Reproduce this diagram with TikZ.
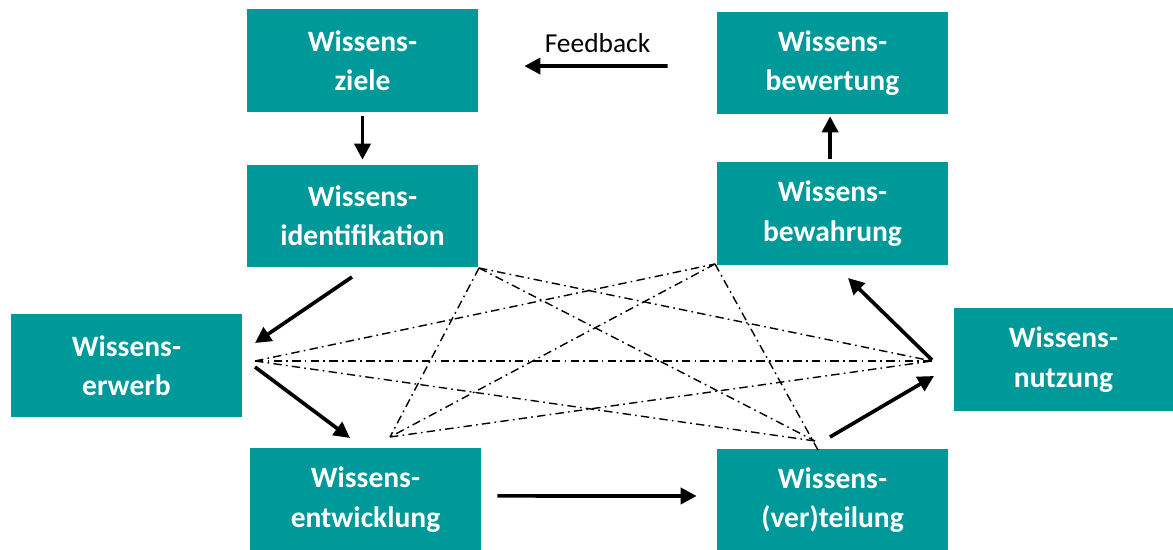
\documentclass[tikz,border=0pt]{standalone}
\usepackage{fontspec}
\setmainfont{Carlito}
\usepackage{tikz}
\usetikzlibrary{arrows.meta}
\definecolor{wmteal}{RGB}{0,153,153}

\begin{document}
\begin{tikzpicture}[x=0.025cm,y=-0.025cm,
      box/.style ={fill=wmteal,text=white,font=\bfseries\fontsize{21}{28}\selectfont,minimum width=5.775cm,minimum height=2.55cm,align=center,inner sep=0pt},
      flow/.style={-{Triangle[length=0.4cm,width=0.4cm]},line width=2.6pt},
      link/.style={line width=1pt,dash pattern=on 6pt off 3pt on 1.2pt off 3pt}]
      \useasboundingbox (0,0) rectangle (1173,550);
      % Bausteine
      \node[box] (ziele)       at (362.5,60.5)  {Wissens-\\ziele};
      \node[box] (bewertung)   at (832.5,63)    {Wissens-\\bewertung};
      \node[box] (ident)       at (362.5,216)   {Wissens-\\identifikation};
      \node[box] (bewahrung)   at (832.5,213.5) {Wissens-\\bewahrung};
      \node[box] (erwerb)      at (126.5,365.5) {Wissens-\\erwerb};
      \node[box,minimum width=5.475cm] (nutzung) at (1063.5,359.5) {Wissens-\\nutzung};
      \node[box] (entwicklung) at (365.5,499.5) {Wissens-\\entwicklung};
      \node[box] (verteilung)  at (832.5,500)   {Wissens-\\(ver)teilung};

      % Endpunkte der schraegen Pfeile
      \coordinate (identOut)  at (352,277);
      \coordinate (erwerbIn)  at (255,343);
      \coordinate (erwerbOut) at (255,367);
      \coordinate (entwIn)    at (350,438);
      \coordinate (verOut)    at (830,437);
      \coordinate (nutzIn)    at (934,376);
      \coordinate (nutzOut)   at (932,360);
      \coordinate (bewahrIn)  at (848,278);

      % Kreislauf
      \draw[flow,shorten <=1.225cm,shorten >=1.15cm] ([yshift=-0.075cm]bewertung.west) -- ([yshift=-0.14cm]ziele.east)
            node[midway,above=0.18cm,font=\fontsize{19.5}{22}\selectfont] (fb) {Feedback};
      \draw[flow,shorten <=0.1cm,shorten >=0.125cm] (ziele) -- (ident);
      \draw[flow,shorten <=0.08cm,shorten >=0.05cm] ([xshift=-0.06cm]bewahrung.north) -- ([xshift=-0.06cm]bewertung.south);
      \draw[flow] (identOut) -- (erwerbIn);
      \draw[flow] (erwerbOut) -- (entwIn);
      \draw[flow,shorten <=0.4cm,shorten >=0.5cm] ([yshift=0.09cm]entwicklung.east) -- ([yshift=0.1cm]verteilung.west);
      \draw[flow] (verOut) -- (nutzIn);
      \draw[flow] (nutzOut) -- (bewahrIn);

      % Querverbindungen (strichpunktiert)
      \coordinate (pA)  at (255,361);
      \coordinate (pB)  at (479,268);
      \coordinate (pC)  at (715,264);
      \coordinate (pD)  at (932,361);
      \coordinate (pE)  at (390,437);
      \coordinate (pF)  at (815,441);
      \coordinate (pF2) at (818,450);
      \foreach \s/\t in {pA/pC,pA/pD,pA/pF,pB/pD,pB/pE,pB/pF,pC/pE,pC/pF2,pE/pD}
        \draw[link] (\s) -- (\t);
\end{tikzpicture}
\end{document}
